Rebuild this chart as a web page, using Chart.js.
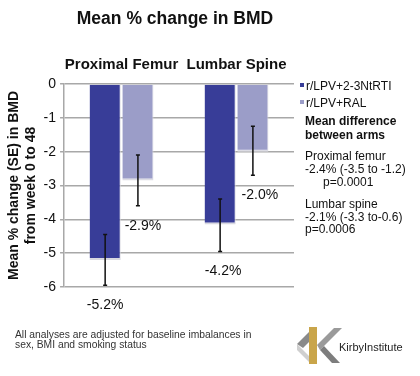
<!DOCTYPE html>
<html>
<head>
<meta charset="utf-8">
<script src="https://cdn.jsdelivr.net/npm/chart.js@4"></script>
<style>
  html, body { margin: 0; padding: 0; background: #fff; }
  #wrap { width: 420px; height: 376px; position: relative; }
</style>
</head>
<body>
<div id="wrap"><canvas id="bmd"></canvas></div>
<script>
// ---- data ----
const sites = ["Proximal Femur", "Lumbar Spine"];
const armNames = ["r/LPV+2-3NtRTI", "r/LPV+RAL"];
const ntrtiMean = [-5.2, -4.15];
const ralMean = [-2.85, -2.0];
const ntrtiErrHi = [-4.45, -3.4];
const ntrtiErrLo = [-5.95, -4.95];
const ralErrHi = [-2.1, -1.25];
const ralErrLo = [-3.6, -2.7];
const ntrtiLabels = ["-5.2%", "-4.2%"];
const ralLabels = ["-2.9%", "-2.0%"];
const yTicks = [0, -1, -2, -3, -4, -5, -6];

const darkBlue = "#383d98";
const lightBlue = "#9b9dc8";
const FONT = "'Liberation Sans', Arial, sans-serif";

// ---- error bars + value labels ----
const errorBars = {
  id: "errorBars",
  afterDatasetsDraw(chart) {
    const ctx = chart.ctx;
    const y = chart.scales.y;
    const sets = [
      { lo: ntrtiErrLo, hi: ntrtiErrHi, labels: ntrtiLabels, dx: [0, 3] },
      { lo: ralErrLo, hi: ralErrHi, labels: ralLabels, dx: [5, 7] }
    ];
    ctx.save();
    sets.forEach((s, di) => {
      chart.getDatasetMeta(di).data.forEach((bar, i) => {
        const yTop = y.getPixelForValue(s.hi[i]);
        const yBot = y.getPixelForValue(s.lo[i]);
        ctx.strokeStyle = "#111";
        ctx.lineWidth = 1.5;
        ctx.beginPath();
        ctx.moveTo(bar.x, yTop); ctx.lineTo(bar.x, yBot);
        ctx.moveTo(bar.x - 2, yTop); ctx.lineTo(bar.x + 2, yTop);
        ctx.moveTo(bar.x - 2, yBot); ctx.lineTo(bar.x + 2, yBot);
        ctx.stroke();
        ctx.fillStyle = "#111";
        ctx.font = "14px " + FONT;
        ctx.textAlign = "center";
        ctx.textBaseline = "middle";
        ctx.fillText(s.labels[i], bar.x + s.dx[i], yBot + 20);
      });
    });
    ctx.restore();
  }
};

// ---- title, side notes, footer, logo ----
const extras = {
  id: "extras",
  afterDraw(chart) {
    const ctx = chart.ctx;
    ctx.save();
    ctx.fillStyle = "#111";
    ctx.textBaseline = "middle";
    ctx.textAlign = "center";
    ctx.font = "bold 17.5px " + FONT;
    ctx.fillText("Mean % change in BMD", 175, 19);

    // legend
    ctx.textAlign = "left";
    ctx.font = "12px " + FONT;
    [darkBlue, lightBlue].forEach((c, i) => {
      const yy = 87 + i * 17;
      ctx.fillStyle = c;
      ctx.fillRect(300, yy - 4, 4, 4);
      ctx.fillStyle = "#111";
      ctx.fillText(armNames[i], 306, yy);
    });

    ctx.font = "bold 12px " + FONT;
    ctx.fillText("Mean difference", 305, 122);
    ctx.fillText("between arms", 305, 136);
    ctx.font = "12px " + FONT;
    ctx.fillText("Proximal femur", 305, 157);
    ctx.fillText("-2.4% (-3.5 to -1.2)", 305, 170);
    ctx.fillText("p=0.0001", 323, 183);
    ctx.fillText("Lumbar spine", 305, 205);
    ctx.fillText("-2.1% (-3.3 to-0.6)", 305, 218);
    ctx.fillText("p=0.0006", 305, 230);

    // footer
    ctx.fillStyle = "#333";
    ctx.font = "10.3px " + FONT;
    ctx.fillText("All analyses are adjusted for baseline imbalances in", 15, 335);
    ctx.fillText("sex, BMI and smoking status", 15, 345);

    // logo
    ctx.fillStyle = "#8a8a8a";
    ctx.beginPath();
    ctx.moveTo(297, 344); ctx.lineTo(310, 331); ctx.lineTo(310, 341); ctx.lineTo(303, 348);
    ctx.closePath(); ctx.fill();
    ctx.fillStyle = "#cfcfcf";
    ctx.beginPath();
    ctx.moveTo(297, 344); ctx.lineTo(310, 357); ctx.lineTo(310, 363); ctx.lineTo(297, 350);
    ctx.closePath(); ctx.fill();
    ctx.fillStyle = "#c9a54a";
    ctx.fillRect(309, 327, 8, 37);
    ctx.fillStyle = "#9a9a9a";
    ctx.beginPath();
    ctx.moveTo(317, 345); ctx.lineTo(334, 328); ctx.lineTo(342, 328); ctx.lineTo(320, 350);
    ctx.closePath(); ctx.fill();
    ctx.fillStyle = "#7d7d7d";
    ctx.beginPath();
    ctx.moveTo(320, 350); ctx.lineTo(324, 346); ctx.lineTo(340, 363); ctx.lineTo(332, 363);
    ctx.closePath(); ctx.fill();
    ctx.fillStyle = "#222";
    ctx.font = "11px " + FONT;
    ctx.fillText("KirbyInstitute", 339, 348);
    ctx.restore();
  }
};

new Chart(document.getElementById("bmd"), {
  type: "bar",
  data: {
    labels: sites,
    datasets: [
      { label: armNames[0], data: ntrtiMean, backgroundColor: darkBlue,
        borderColor: "#d8d8e0", borderWidth: { right: 1, bottom: 2 } },
      { label: armNames[1], data: ralMean, backgroundColor: lightBlue,
        borderColor: "#dcdce4", borderWidth: { right: 1, bottom: 2 } }
    ]
  },
  options: {
    responsive: true,
    maintainAspectRatio: false,
    animation: false,
    layout: { padding: { top: 54, right: 126, bottom: 89, left: 6 } },
    categoryPercentage: 0.57,
    barPercentage: 0.95,
    plugins: {
      legend: { display: false },
      title: { display: false },
      tooltip: { enabled: false }
    },
    scales: {
      x: {
        position: "top",
        grid: { display: false },
        border: { display: false },
        ticks: { color: "#111", font: { family: FONT, size: 15, weight: "bold" }, padding: 2,
                 maxRotation: 0, minRotation: 0, autoSkip: false }
      },
      y: {
        min: -6,
        max: 0,
        afterBuildTicks(axis) { axis.ticks = yTicks.map(v => ({ value: v })); },
        grid: { color: "#a8a8a8", lineWidth: 1.5, tickLength: 4 },
        border: { display: true, color: "#a8a8a8", width: 1.5 },
        ticks: { color: "#111", font: { family: FONT, size: 14 }, padding: 4 },
        title: {
          display: true,
          text: ["Mean % change (SE) in BMD", "from week 0 to 48"],
          color: "#111",
          font: { family: FONT, size: 14, weight: "bold" },
          padding: { top: 0, bottom: 0 }
        }
      }
    }
  },
  plugins: [errorBars, extras]
});
</script>
</body>
</html>
